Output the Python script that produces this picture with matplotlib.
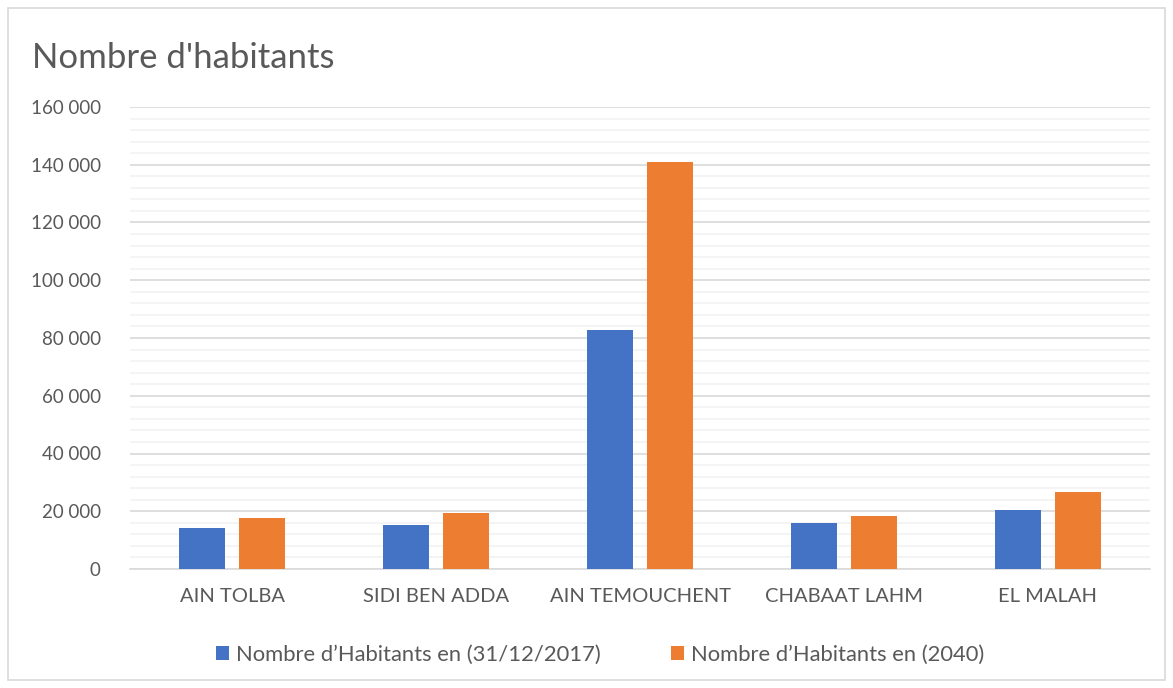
import numpy as np
import matplotlib.pyplot as plt
from matplotlib.ticker import MultipleLocator, FuncFormatter
from matplotlib.patches import Rectangle

# Data
communes = ['AIN TOLBA', 'SIDI BEN ADDA', 'AIN TEMOUCHENT', 'CHABAAT LAHM', 'EL MALAH']
hab_2017 = [14100, 15300, 82700, 15900, 20400]
hab_2040 = [17800, 19400, 141100, 18500, 26700]
series_names = ['Nombre d\u2019Habitants en (31/12/2017)', 'Nombre d\u2019Habitants en (2040)']

plt.rcParams['font.family'] = ['Lato', 'DejaVu Sans']
txt = '#595959'

fig = plt.figure(figsize=(11.73, 6.88), dpi=100)
fig.patches.append(Rectangle((8 / 1173, 8 / 688), 1157 / 1173, 672 / 688, transform=fig.transFigure,
                             fill=False, edgecolor='#d9d9d9', linewidth=1.2))

ax = fig.add_axes([130 / 1173, 1 - 569 / 688, 1020 / 1173, 462 / 688])

x = np.arange(len(communes))
w = 0.225
off = 0.145
ax.bar(x - off, hab_2017, w, color='#4472c4', label=series_names[0], zorder=3)
ax.bar(x + off, hab_2040, w, color='#ed7d31', label=series_names[1], zorder=3)

ax.set_xlim(-0.5, len(communes) - 0.5)
ax.set_ylim(0, 160000)
ax.yaxis.set_major_locator(MultipleLocator(20000))
ax.yaxis.set_minor_locator(MultipleLocator(4000))
ax.yaxis.set_major_formatter(FuncFormatter(lambda v, p: f'{int(v):,}'.replace(',', ' ')))
ax.grid(axis='y', which='major', color='#d9d9d9', linewidth=1.2, zorder=0)
ax.grid(axis='y', which='minor', color='#f2f2f2', linewidth=1.2, zorder=0)

for s in ['top', 'right', 'left']:
    ax.spines[s].set_visible(False)
ax.spines['bottom'].set_color('#d9d9d9')
ax.spines['bottom'].set_linewidth(1.2)

ax.set_xticks(x)
ax.set_xticklabels(communes)
ax.tick_params(axis='both', which='both', length=0, colors=txt)
ax.tick_params(axis='x', pad=14, labelsize=14.5)
ax.tick_params(axis='y', pad=21, labelsize=13.5)

fig.text(32 / 1173, 1 - 58 / 688, "Nombre d'habitants", fontsize=25, color=txt, va='center', ha='left')

leg = fig.legend(loc='center', bbox_to_anchor=(600 / 1173, 1 - 655 / 688), ncol=2, frameon=False,
                 fontsize=15.8, handlelength=0.6, handleheight=0.6, handletextpad=0.3, columnspacing=3.2)
for t in leg.get_texts():
    t.set_color(txt)

fig.savefig('out.png', dpi=100)
